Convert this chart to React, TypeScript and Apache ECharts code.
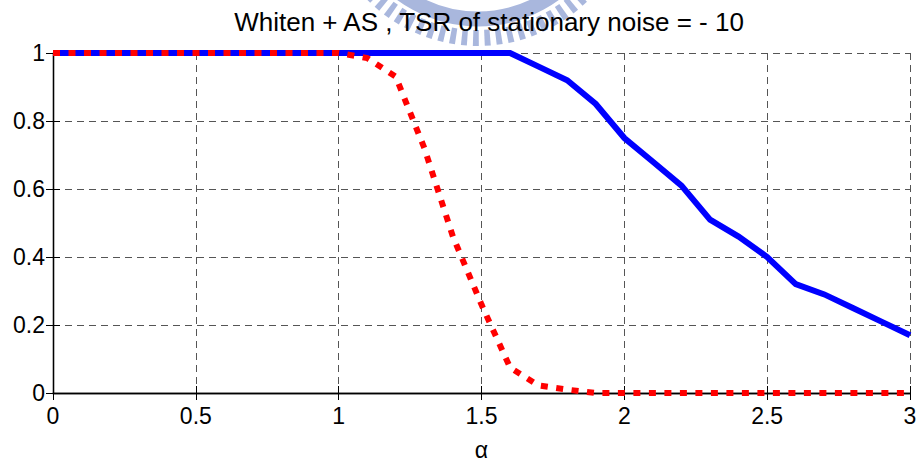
import React, { useEffect, useRef } from "react";
import * as echarts from "echarts";

const alphaValues = [
  0, 0.1, 0.2, 0.3, 0.4, 0.5, 0.6, 0.7, 0.8, 0.9, 1.0, 1.1, 1.2, 1.3, 1.4, 1.5,
  1.6, 1.7, 1.8, 1.9, 2.0, 2.1, 2.2, 2.3, 2.4, 2.5, 2.6, 2.7, 2.8, 2.9, 3.0,
];
const blueSeries = [
  1, 1, 1, 1, 1, 1, 1, 1, 1, 1, 1, 1, 1, 1, 1, 1, 1, 0.96, 0.92, 0.85, 0.75,
  0.68, 0.61, 0.51, 0.46, 0.4, 0.32, 0.29, 0.25, 0.21, 0.17,
];
const redSeries = [
  1, 1, 1, 1, 1, 1, 1, 1, 1, 1, 1, 0.985, 0.93, 0.72, 0.46, 0.26, 0.075, 0.022,
  0.01, 0, 0, 0, 0, 0, 0, 0, 0, 0, 0, 0, 0,
];
const titleText = "Whiten + AS , TSR of stationary noise = - 10";
const xName = "α";

const FONT = "'Liberation Sans', Arial, sans-serif";

function buildWatermark() {
  const color = "#a9b7dd";
  const cx = 478;
  const cy = -110;
  const elements: any[] = [];
  elements.push({
    type: "arc",
    z: 0,
    silent: true,
    shape: { cx, cy, r: 129, startAngle: Math.PI * 0.2, endAngle: Math.PI * 0.8 },
    style: { stroke: color, lineWidth: 15, fill: "none" },
  });
  const r1 = 140;
  const r2 = 156;
  const half = (1.1 * Math.PI) / 180;
  for (let deg = 38; deg <= 142; deg += 4.4) {
    const t = (deg * Math.PI) / 180;
    const pts = [
      [cx + r1 * Math.cos(t - half), cy + r1 * Math.sin(t - half)],
      [cx + r2 * Math.cos(t - half), cy + r2 * Math.sin(t - half)],
      [cx + r2 * Math.cos(t + half), cy + r2 * Math.sin(t + half)],
      [cx + r1 * Math.cos(t + half), cy + r1 * Math.sin(t + half)],
    ];
    elements.push({
      type: "polygon",
      z: 0,
      silent: true,
      shape: { points: pts },
      style: { fill: color },
    });
  }
  return elements;
}

export default function App() {
  const ref = useRef<HTMLDivElement>(null);
  useEffect(() => {
    if (!ref.current) return;
    const chart = echarts.init(ref.current, undefined, { renderer: "svg" });
    const blue = alphaValues.map((x, i) => [x, blueSeries[i]]);
    const red = alphaValues.map((x, i) => [x, redSeries[i]]);
    const gridLine = { show: true, lineStyle: { color: "#555", width: 1, type: [7, 5] } };
    const axisLine = { show: true, lineStyle: { color: "#000", width: 1.3 } };
    const tick = { show: true, inside: true, length: 7, lineStyle: { color: "#000", width: 1 } };
    chart.setOption({
      animation: false,
      backgroundColor: "#fff",
      title: {
        text: titleText,
        left: 484,
        top: 4,
        textAlign: "center",
        z: 10,
        textStyle: { fontFamily: FONT, fontSize: 26, fontWeight: "normal", color: "#000" },
      },
      graphic: buildWatermark(),
      grid: { left: 53, width: 857, top: 53, height: 347, containLabel: false },
      xAxis: [
        {
          type: "value",
          min: 0,
          max: 3,
          interval: 0.5,
          name: xName,
          nameLocation: "middle",
          nameGap: 45,
          nameTextStyle: { fontFamily: FONT, fontSize: 23, color: "#000" },
          axisLine,
          axisTick: tick,
          axisLabel: { fontFamily: FONT, fontSize: 23, color: "#000", margin: 11 },
          splitLine: gridLine,
        },
        {
          type: "value",
          position: "top",
          min: 0,
          max: 3,
          interval: 0.5,
          axisLine,
          axisTick: tick,
          axisLabel: { show: false },
          splitLine: { show: false },
        },
      ],
      yAxis: [
        {
          type: "value",
          min: 0,
          max: 1,
          interval: 0.2,
          axisLine,
          axisTick: tick,
          axisLabel: { fontFamily: FONT, fontSize: 23, color: "#000", margin: 8 },
          splitLine: gridLine,
        },
        {
          type: "value",
          position: "right",
          min: 0,
          max: 1,
          interval: 0.2,
          axisLine,
          axisTick: tick,
          axisLabel: { show: false },
          splitLine: { show: false },
        },
      ],
      series: [
        {
          type: "line",
          data: blue,
          showSymbol: false,
          symbol: "none",
          lineStyle: { color: "#0000ff", width: 6, type: "solid", cap: "butt", join: "miter" },
          z: 3,
        },
        {
          type: "line",
          data: red,
          showSymbol: false,
          symbol: "none",
          lineStyle: { color: "#ff0000", width: 6, type: [7, 8.5], cap: "butt", join: "miter" },
          z: 4,
        },
      ],
    });
    return () => chart.dispose();
  }, []);
  return (
    <div
      ref={ref}
      style={{ position: "fixed", left: 0, top: 0, width: 921, height: 466 }}
    />
  );
}
